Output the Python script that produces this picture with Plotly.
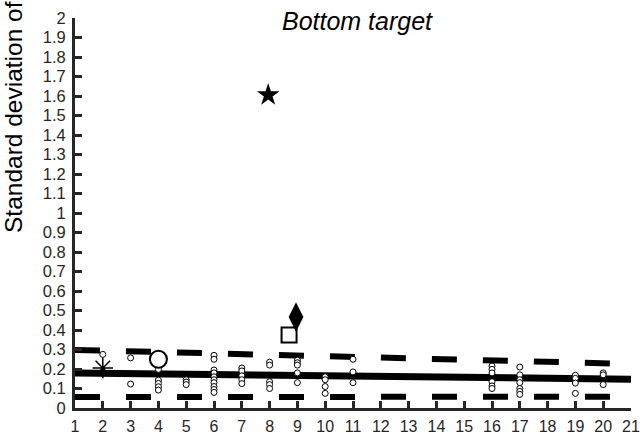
import plotly.graph_objects as go

# ---- data ----
x_ticks = list(range(1, 22))
y_ticks = [round(i * 0.1, 1) for i in range(0, 21)]
y_ticktext = ["0" if v == 0 else ("1" if v == 1 else ("2" if v == 2 else f"{v:g}")) for v in y_ticks]

small_x = [2,
           3, 3,
           4, 4, 4, 4, 4,
           5, 5, 5,
           6, 6, 6, 6, 6, 6, 6, 6, 6, 6,
           7, 7, 7, 7, 7,
           8, 8, 8, 8, 8,
           9, 9, 9, 9, 9,
           10, 10, 10, 10,
           11, 11, 11,
           16, 16, 16, 16, 16, 16,
           17, 17, 17, 17, 17, 17, 17,
           19, 19, 19, 19,
           20, 20, 20]
small_y = [0.275,
           0.257, 0.123,
           0.198, 0.143, 0.126, 0.109, 0.092,
           0.145, 0.133, 0.12,
           0.27, 0.25, 0.195, 0.18, 0.16, 0.145, 0.13, 0.11, 0.095, 0.08,
           0.205, 0.19, 0.165, 0.145, 0.125,
           0.235, 0.22, 0.135, 0.12, 0.10,
           0.245, 0.232, 0.22, 0.18, 0.13,
           0.16, 0.145, 0.11, 0.075,
           0.25, 0.185, 0.13,
           0.215, 0.198, 0.18, 0.135, 0.113, 0.10,
           0.21, 0.17, 0.145, 0.13, 0.10, 0.085, 0.07,
           0.168, 0.152, 0.128, 0.075,
           0.18, 0.17, 0.12]

fit_x = [1, 21]
fit_y = [0.18, 0.148]
upper_y = [0.298, 0.226]
lower_y = [0.056, 0.058]

asterisk_x, asterisk_y = [2], [0.205]
bigcircle_x, bigcircle_y = [4], [0.25]
star_x, star_y = [7.95], [1.605]
square_x, square_y = [8.7], [0.375]
diamond_x, diamond_y = [8.95], [0.467]

AX = "#262626"
FONT = "Liberation Sans, Arial, sans-serif"

fig = go.Figure()
fig.add_trace(go.Scatter(x=fit_x, y=upper_y, mode="lines",
                         line=dict(color="black", width=6, dash="25px,26px")))
fig.add_trace(go.Scatter(x=fit_x, y=lower_y, mode="lines",
                         line=dict(color="black", width=6, dash="25px,26px")))
fig.add_trace(go.Scatter(x=fit_x, y=fit_y, mode="lines",
                         line=dict(color="black", width=7)))
fig.add_trace(go.Scatter(x=small_x, y=small_y, mode="markers",
                         marker=dict(symbol="circle", size=6, color="white",
                                     line=dict(color="black", width=1))))
fig.add_trace(go.Scatter(x=asterisk_x, y=asterisk_y, mode="markers",
                         marker=dict(symbol="asterisk-open", size=17, color="black",
                                     line=dict(color="black", width=1.5))))
fig.add_trace(go.Scatter(x=bigcircle_x, y=bigcircle_y, mode="markers",
                         marker=dict(symbol="circle", size=17, color="white",
                                     line=dict(color="black", width=2))))
fig.add_trace(go.Scatter(x=star_x, y=star_y, mode="markers",
                         marker=dict(symbol="star", size=17, color="black",
                                     line=dict(color="black", width=0))))
fig.add_trace(go.Scatter(x=square_x, y=square_y, mode="markers",
                         marker=dict(symbol="square", size=15, color="white",
                                     line=dict(color="black", width=2))))
fig.add_trace(go.Scatter(x=diamond_x, y=diamond_y, mode="markers",
                         marker=dict(symbol="diamond-tall", size=21, color="black",
                                     line=dict(color="black", width=0))))

fig.update_layout(
    width=641, height=436,
    margin=dict(l=75, r=10, t=18, b=28, autoexpand=False),
    paper_bgcolor="white", plot_bgcolor="white",
    showlegend=False,
    title=dict(text="Bottom target", x=357 / 641, xref="container", xanchor="center",
               y=1 - 21 / 436, yref="container", yanchor="middle", automargin=False,
               font=dict(family=FONT, size=25, color="black", style="italic")),
    xaxis=dict(range=[1, 21], tickmode="array", tickvals=x_ticks,
               ticktext=[str(v) for v in x_ticks], automargin=False,
               ticks="inside", ticklen=7, tickwidth=3, tickcolor=AX,
               showline=True, linewidth=3, linecolor=AX,
               showgrid=False, zeroline=False, ticklabelstandoff=2,
               tickfont=dict(family=FONT, size=16, color=AX)),
    yaxis=dict(range=[0, 2], tickmode="array", tickvals=y_ticks, ticktext=y_ticktext,
               automargin=False,
               ticks="inside", ticklen=7, tickwidth=3, tickcolor=AX,
               showline=True, linewidth=3, linecolor=AX,
               showgrid=False, zeroline=False, ticklabelstandoff=3,
               tickfont=dict(family=FONT, size=16.5, color=AX)),
)

fig.add_annotation(text="Standard deviation of", xref="paper", yref="paper",
                   x=(13 - 75) / 556, y=(408 - 117) / 390,
                   xanchor="center", yanchor="middle", textangle=-90,
                   showarrow=False,
                   font=dict(family=FONT, size=24.5, color="black"))

fig.write_html("out.html", config={"displayModeBar": False},
               post_script="document.body.style.margin='0';document.body.style.overflow='hidden';")
